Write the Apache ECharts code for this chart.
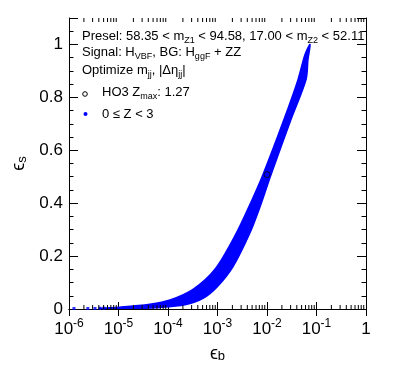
<!DOCTYPE html>
<html>
<head>
<meta charset="utf-8">
<script src="https://cdn.jsdelivr.net/npm/echarts@6/dist/echarts.min.js"></script>
<style>
html,body{margin:0;padding:0;background:#fff;}
#c{width:407px;height:373px;}
</style>
</head>
<body>
<div id="c"></div>
<script>
// ---- data ----
const xTickExps = [-6, -5, -4, -3, -2, -1, 0];
// upper-left edge of the scan band (eps_b, eps_s), bottom -> top
const bandUpperX = [4.2e-6, 1.07e-5, 4.3e-5, 1.1e-4, 3.2e-4, 8.9e-4, 2.26e-3, 5.0e-3, 8.3e-3, 0.022, 0.0423, 0.0586, 0.074];
const bandUpperS = [0.003, 0.007, 0.018, 0.034, 0.074, 0.150, 0.277, 0.413, 0.508, 0.716, 0.867, 0.962, 1.000];
// lower-right edge of the scan band, top -> bottom
const bandLowerX = [0.0672, 0.0614, 0.0305, 0.0121, 0.00689, 0.00454, 0.00206, 0.00098, 0.00051, 0.000219, 6.9e-5, 1.7e-5, 4.2e-6];
const bandLowerS = [0.943, 0.867, 0.716, 0.508, 0.375, 0.288, 0.160, 0.083, 0.040, 0.016, 0.006, 0.002, 0.0005];
// isolated points at the low end
const lowDotsX = [1.26e-6, 2.4e-6, 3.35e-6, 4.2e-6, 5.1e-6];
const lowDotsS = [0.002, 0.002, 0.002, 0.003, 0.003];
// HO3 optimum
const ho3X = [0.0100];
const ho3S = [0.508];

const FONT = 'Liberation Sans, Arial, Helvetica, sans-serif';
const GREEK = 'Liberation Sans, DejaVu Sans, sans-serif';

// log minor tick positions (axis decoration)
const minorX = [];
for (const e of xTickExps) { if (e === 0) continue; for (let k = 2; k <= 9; k++) minorX.push([k * Math.pow(10, e)]); }

const chart = echarts.init(document.getElementById('c'), null, {renderer: 'canvas'});

const commonXAxis = {
  type: 'log', logBase: 10, min: 1e-6, max: 1, interval: 1,
  axisLine: {show: true, lineStyle: {color: '#000', width: 1}},
  axisTick: {show: true, inside: true, length: 7, lineStyle: {color: '#000'}},
  minorTick: {show: false},
  splitLine: {show: false}
};

const option = {
  animation: false,
  backgroundColor: '#fff',
  grid: {left: 69, right: 41, top: 18, bottom: 64, containLabel: false},
  xAxis: [
    Object.assign({}, commonXAxis, {
      position: 'bottom',
      name: 'ϵ{sub|b}', nameLocation: 'middle', nameGap: 28,
      nameTextStyle: {fontFamily: GREEK, fontSize: 18, color: '#000',
        rich: {sub: {fontFamily: FONT, fontSize: 13, verticalAlign: 'bottom', lineHeight: 13}}},
      axisLabel: {
        show: true, margin: 9, color: '#000', fontFamily: FONT, fontSize: 17, lineHeight: 22,
        formatter: function (v) {
          const e = Math.round(Math.log10(v));
          if (e === 0) return '{b|1}';
          return '{b|10}{sup|' + e + '}';
        },
        rich: {
          b: {fontFamily: FONT, fontSize: 17, lineHeight: 22, color: '#000'},
          sup: {fontFamily: FONT, fontSize: 12, lineHeight: 12, verticalAlign: 'top', color: '#000'}
        }
      }
    }),
    Object.assign({}, commonXAxis, {position: 'top', axisLabel: {show: false}})
  ],
  yAxis: [
    {
      type: 'value', min: 0, max: 1.1, interval: 0.2, position: 'left',
      name: 'ϵ{sub|s}', nameLocation: 'middle', nameGap: 40, nameRotate: 90,
      nameTextStyle: {fontFamily: GREEK, fontSize: 18, color: '#000',
        rich: {sub: {fontFamily: FONT, fontSize: 13, verticalAlign: 'bottom', lineHeight: 13}}},
      axisLine: {show: true, lineStyle: {color: '#000'}},
      axisTick: {show: true, inside: true, length: 9, lineStyle: {color: '#000'}},
      minorTick: {show: true, splitNumber: 4, length: 4.5, lineStyle: {color: '#000'}},
      splitLine: {show: false},
      axisLabel: {show: true, margin: 6, color: '#000', fontFamily: FONT, fontSize: 17, showMaxLabel: false,
        formatter: function (v) { return v > 1.05 ? '' : (Math.round(v * 10) / 10).toString(); }}
    },
    {
      type: 'value', min: 0, max: 1.1, interval: 0.2, position: 'right',
      axisLine: {show: true, lineStyle: {color: '#000'}},
      axisTick: {show: true, inside: true, length: 9, lineStyle: {color: '#000'}},
      minorTick: {show: true, splitNumber: 4, length: 4.5, lineStyle: {color: '#000'}},
      splitLine: {show: false},
      axisLabel: {show: false}
    }
  ],
  series: [
    {
      type: 'custom', coordinateSystem: 'cartesian2d', xAxisIndex: 0, yAxisIndex: 0,
      data: [[1e-3, 0.5]], silent: true, z: 2, clip: true,
      renderItem: function (params, api) {
        const pts = [];
        for (let i = 0; i < bandUpperX.length; i++) pts.push(api.coord([bandUpperX[i], bandUpperS[i]]));
        for (let i = 0; i < bandLowerX.length; i++) pts.push(api.coord([bandLowerX[i], bandLowerS[i]]));
        return {type: 'polygon', shape: {points: pts, smooth: 0.3}, style: {fill: '#0000ff', stroke: '#0000ff', lineWidth: 1.5}};
      }
    },
    {
      type: 'scatter', xAxisIndex: 0, yAxisIndex: 0, silent: true, z: 3,
      symbol: 'rect', symbolSize: 3, itemStyle: {color: '#0000ff'},
      data: lowDotsX.map((x, i) => [x, lowDotsS[i]])
    },
    {
      type: 'scatter', xAxisIndex: 0, yAxisIndex: 0, silent: true, z: 5,
      symbol: 'circle', symbolSize: 6,
      itemStyle: {color: 'rgba(0,0,0,0)', borderColor: '#000', borderWidth: 1},
      data: ho3X.map((x, i) => [x, ho3S[i]])
    },
    {
      type: 'custom', coordinateSystem: 'cartesian2d', xAxisIndex: 0, yAxisIndex: 0,
      data: minorX, silent: true, z: 6, clip: false,
      renderItem: function (params, api) {
        const v = api.value(0);
        const b = api.coord([v, 0]);
        const t = api.coord([v, 1.1]);
        return {type: 'group', children: [
          {type: 'line', shape: {x1: b[0], y1: b[1], x2: b[0], y2: b[1] - 4}, style: {stroke: '#000', lineWidth: 1}},
          {type: 'line', shape: {x1: t[0], y1: t[1], x2: t[0], y2: t[1] + 4}, style: {stroke: '#000', lineWidth: 1}}
        ]};
      }
    }
  ],
  graphic: [
    {type: 'text', left: 82, top: 27.5, style: {
      text: 'Presel: 58.35 < m{sub|Z1} < 94.58, 17.00 < m{sub|Z2} < 52.11',
      fontFamily: FONT, fontSize: 13, lineHeight: 18, fill: '#000',
      rich: {sub: {fontFamily: FONT, fontSize: 9, lineHeight: 9, verticalAlign: 'bottom'}}}},
    {type: 'text', left: 82, top: 43.5, style: {
      text: 'Signal: H{sub|VBF}, BG: H{sub|ggF} + ZZ',
      fontFamily: FONT, fontSize: 13, lineHeight: 18, fill: '#000',
      rich: {sub: {fontFamily: FONT, fontSize: 9, lineHeight: 9, verticalAlign: 'bottom'}}}},
    {type: 'text', left: 82, top: 61, style: {
      text: 'Optimize m{sub|jj}, |Δη{sub|jj}|',
      fontFamily: FONT, fontSize: 13, lineHeight: 18, fill: '#000',
      rich: {sub: {fontFamily: FONT, fontSize: 9, lineHeight: 9, verticalAlign: 'bottom'}}}},
    {type: 'circle', shape: {cx: 85, cy: 94, r: 2.3}, style: {fill: 'none', stroke: '#000', lineWidth: 1}},
    {type: 'text', left: 102, top: 83, style: {
      text: 'HO3 Z{sub|max}: 1.27',
      fontFamily: FONT, fontSize: 13, lineHeight: 18, fill: '#000',
      rich: {sub: {fontFamily: FONT, fontSize: 9, lineHeight: 9, verticalAlign: 'bottom'}}}},
    {type: 'circle', shape: {cx: 85.5, cy: 114, r: 2}, style: {fill: '#0000ff'}},
    {type: 'text', left: 102, top: 105.5, style: {
      text: '0 ≤ Z < 3', fontFamily: FONT, fontSize: 13, lineHeight: 18, fill: '#000'}}
  ]
};
chart.setOption(option);
</script>
</body>
</html>
